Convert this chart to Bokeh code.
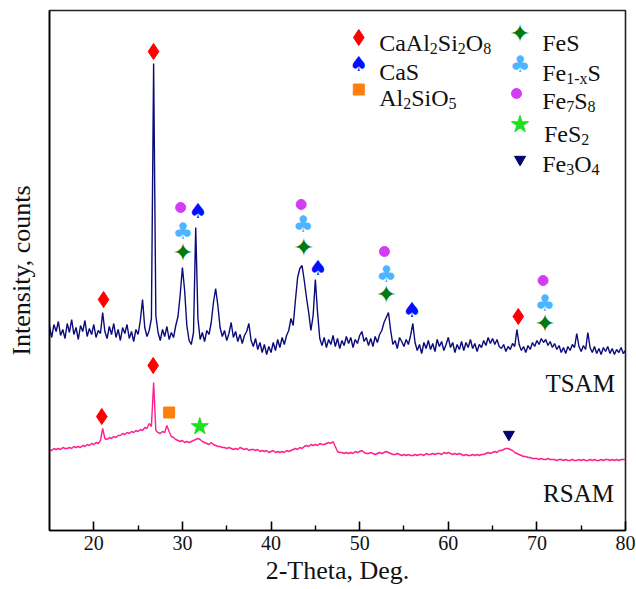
import numpy as np
from bokeh.plotting import figure
from bokeh.models import Range1d, FixedTicker, ColumnDataSource
from bokeh.core.properties import value
from bokeh.embed import file_html
from bokeh.resources import INLINE

# 2-theta scan, 0.25 deg step from 15 to 80 deg (261 points)
two_theta = np.linspace(15.0, 80.0, 261)

# TSAM pattern (offset upward), one row per degree
tsam_counts = [
    204, 193, 206, 199,   # 15
    209, 195, 201, 192,   # 16
    207, 198, 211, 196,   # 17
    203, 191, 205, 199,   # 18
    210, 194, 202, 196,   # 19
    206, 193, 200, 197,   # 20
    218, 199, 192, 204,   # 21
    196, 207, 193, 201,   # 22
    190, 203, 197, 206,   # 23
    192, 199, 189, 201,   # 24
    196, 210, 231, 203,   # 25
    194, 200, 212, 467,   # 26
    215, 198, 190, 201,   # 27
    194, 204, 191, 198,   # 28
    193, 205, 214, 236,   # 29
    263, 240, 205, 190,   # 30
    186, 198, 303, 212,   # 31
    191, 198, 189, 200,   # 32
    196, 208, 228, 242,   # 33
    225, 203, 194, 200,   # 34
    190, 197, 208, 193,   # 35
    199, 189, 196, 187,   # 36
    195, 199, 207, 190,   # 37
    184, 192, 181, 188,   # 38
    178, 186, 176, 184,   # 39
    178, 188, 180, 191,   # 40
    183, 193, 186, 195,   # 41
    200, 212, 205, 230,   # 42
    253, 262, 265, 250,   # 43
    233, 218, 200, 215,   # 44
    251, 218, 192, 185,   # 45
    193, 183, 191, 186,   # 46
    195, 184, 192, 182,   # 47
    190, 185, 194, 187,   # 48
    193, 183, 191, 187,   # 49
    195, 199, 189, 193,   # 50
    185, 192, 184, 194,   # 51
    188, 196, 200, 208,   # 52
    213, 218, 200, 186,   # 53
    190, 182, 193, 189,   # 54
    184, 191, 186, 195,   # 55
    207, 188, 180, 186,   # 56
    177, 188, 182, 190,   # 57
    181, 187, 179, 191,   # 58
    184, 189, 180, 186,   # 59
    193, 183, 188, 178,   # 60
    186, 181, 189, 180,   # 61
    188, 183, 191, 182,   # 62
    187, 179, 186, 183,   # 63
    190, 185, 193, 187,   # 64
    192, 186, 191, 184,   # 65
    182, 186, 179, 184,   # 66
    181, 187, 184, 201,   # 67
    186, 180, 184, 178,   # 68
    185, 181, 188, 184,   # 69
    190, 186, 192, 188,   # 70
    191, 185, 189, 183,   # 71
    187, 181, 185, 178,   # 72
    183, 177, 184, 180,   # 73
    186, 183, 197, 184,   # 74
    179, 185, 181, 198,   # 75
    183, 178, 184, 177,   # 76
    182, 176, 183, 179,   # 77
    184, 177, 182, 176,   # 78
    181, 178, 183, 177,   # 79
    180,                  # 80
]

# RSAM pattern (lower trace)
rsam_counts = [
    81, 80, 82, 81,   # 15
    82, 81, 83, 82,   # 16
    82, 83, 82, 84,   # 17
    83, 84, 83, 85,   # 18
    84, 86, 85, 87,   # 19
    86, 88, 87, 90,   # 20
    102, 92, 91, 93,  # 21
    92, 94, 93, 95,   # 22
    95, 97, 96, 98,   # 23
    97, 99, 98, 100,  # 24
    99, 101, 100, 103,  # 25
    102, 107, 104, 148,  # 26
    100, 98, 97, 99,  # 27
    98, 105, 99, 94,  # 28
    93, 91, 90, 89,   # 29
    90, 88, 89, 88,   # 30
    89, 90, 91, 92,   # 31
    91, 89, 88, 87,   # 32
    86, 88, 86, 85,   # 33
    84, 84, 83, 83,   # 34
    82, 83, 82, 81,   # 35
    82, 81, 83, 82,   # 36
    81, 82, 80, 81,   # 37
    81, 80, 81, 79,   # 38
    80, 79, 80, 78,   # 39
    79, 80, 78, 79,   # 40
    78, 79, 78, 80,   # 41
    79, 80, 81, 82,   # 42
    81, 83, 82, 84,   # 43
    85, 84, 86, 85,   # 44
    86, 85, 87, 86,   # 45
    86, 87, 88, 87,   # 46
    89, 84, 79, 78,   # 47
    78, 77, 78, 77,   # 48
    78, 77, 79, 78,   # 49
    79, 80, 78, 77,   # 50
    77, 78, 77, 76,   # 51
    77, 78, 77, 78,   # 52
    79, 78, 77, 76,   # 53
    76, 77, 76, 75,   # 54
    76, 75, 76, 75,   # 55
    75, 76, 75, 76,   # 56
    76, 75, 77, 76,   # 57
    76, 77, 76, 77,   # 58
    77, 76, 78, 77,   # 59
    78, 77, 76, 77,   # 60
    76, 77, 76, 75,   # 61
    76, 75, 75, 76,   # 62
    75, 76, 75, 76,   # 63
    76, 77, 78, 77,   # 64
    78, 79, 78, 80,   # 65
    80, 81, 82, 82,   # 66
    81, 80, 78, 77,   # 67
    76, 75, 74, 74,   # 68
    73, 73, 72, 72,   # 69
    72, 71, 72, 71,   # 70
    71, 72, 71, 71,   # 71
    71, 70, 71, 71,   # 72
    70, 71, 70, 70,   # 73
    71, 70, 70, 71,   # 74
    70, 71, 70, 70,   # 75
    71, 70, 71, 70,   # 76
    70, 71, 70, 71,   # 77
    71, 70, 71, 70,   # 78
    71, 70, 71, 71,   # 79
    71,               # 80
]

# Phase identification marks: (2-theta, height on the stacked scale)
anorthite_x = [21.1, 26.74, 67.9, 20.9, 26.7]          # CaAl2Si2O8
anorthite_y = [231, 479, 214, 114, 165]
cas_x = [31.74, 45.3, 55.9]                             # CaS
cas_y = [320, 263, 221]
al2sio5_x = [28.5]
al2sio5_y = [118]
fes_x = [30.05, 43.7, 53.0, 70.9]                       # FeS
fes_y = [278, 283, 236, 207]
fe1xs_x = [30.05, 43.6, 53.0, 70.9]                     # Fe1-xS
fe1xs_y = [300, 307, 257, 228]
fe7s8_x = [29.8, 43.4, 52.8, 70.7]
fe7s8_y = [323, 326, 279, 250]
fes2_x = [31.96]
fes2_y = [104]
fe3o4_x = [66.84]
fe3o4_y = [96]

x_ticks = [20, 30, 40, 50, 60, 70, 80]
x_minor = [25, 35, 45, 55, 65, 75]

SERIF = "Liberation Serif"
SYM = "DejaVu Sans"

C_ANOR = "#ff0000"
C_CAS = "#0010ff"
C_AL = "#ff7f0e"
C_FES = "#007a12"
C_FE1X = "#4db5ff"
C_FE7 = "#d23cf2"
C_FES2 = "#1fe01f"
C_FE3 = "#00006e"

SPADE_PX, CLUB_PX, STAR4_PX = "21px", "23px", "25px"

p = figure(width=636, height=589, output_backend="svg", toolbar_location=None,
           x_range=Range1d(15, 80), y_range=Range1d(0, 520),
           min_border_left=49, min_border_right=11, min_border_top=10,
           min_border_bottom=59)
p.background_fill_color = "white"
p.border_fill_color = "white"
p.grid.visible = False
p.outline_line_color = "#222222"
p.outline_line_width = 1.6

# axes
xa = p.xaxis[0]
xa.ticker = FixedTicker(ticks=x_ticks, minor_ticks=x_minor)
xa.major_tick_in = 9
xa.major_tick_out = 0
xa.minor_tick_in = 5
xa.minor_tick_out = 0
xa.axis_line_width = 1.6
xa.major_tick_line_width = 1.6
xa.minor_tick_line_width = 1.4
xa.major_label_text_font = SERIF
xa.major_label_text_font_size = "20px"
xa.major_label_text_color = "#111111"
xa.major_label_standoff = 5
xa.axis_label = "2-Theta, Deg."
xa.axis_label_text_font = SERIF
xa.axis_label_text_font_size = "26px"
xa.axis_label_text_font_style = "normal"
xa.axis_label_text_color = "#111111"
xa.axis_label_standoff = 3

ya = p.yaxis[0]
ya.ticker = FixedTicker(ticks=[])
ya.major_tick_in = 0
ya.major_tick_out = 0
ya.minor_tick_in = 0
ya.minor_tick_out = 0
ya.axis_line_width = 1.6
ya.major_label_text_font_size = "0px"
ya.axis_label = "Intensity, counts"
ya.axis_label_text_font = SERIF
ya.axis_label_text_font_size = "26px"
ya.axis_label_text_font_style = "normal"
ya.axis_label_text_color = "#111111"
ya.axis_label_standoff = 14

# diffraction patterns
p.line(two_theta, rsam_counts, line_color="#ff1f8e", line_width=1.4)
p.line(two_theta, tsam_counts, line_color="#0b0b7a", line_width=1.4)

# phase marks
p.scatter(anorthite_x, anorthite_y, marker="diamond", size=16, color=C_ANOR)
p.scatter(al2sio5_x, al2sio5_y, marker="square", size=11, color=C_AL)
p.scatter(fe7s8_x, fe7s8_y, marker="circle", size=10, color=C_FE7)
p.scatter(fes2_x, fes2_y, marker="star", size=18, color=C_FES2)
p.scatter(fe3o4_x, fe3o4_y, marker="inverted_triangle", size=11, color=C_FE3)
p.text(cas_x, cas_y, text=["\u2660"] * len(cas_x), text_font=value(SYM),
       text_font_size=SPADE_PX, text_color=C_CAS, text_align="center",
       text_baseline="middle")
p.text(fe1xs_x, fe1xs_y, text=["\u2663"] * len(fe1xs_x), text_font=value(SYM),
       text_font_size=CLUB_PX, text_color=C_FE1X, text_align="center",
       text_baseline="middle")
p.text(fes_x, fes_y, text=["\u2726"] * len(fes_x), text_font=value(SYM),
       text_font_size=STAR4_PX, text_color=C_FES, text_align="center",
       text_baseline="middle")

# sample names
p.text([78.8, 78.7], [147, 37], text=["TSAM", "RSAM"], text_font=value(SERIF),
       text_font_size="25px", text_color="#111111", text_align="right",
       text_baseline="alphabetic")

# legend with chemical subscripts laid out segment by segment
ADV = {"C": 0.667, "a": 0.444, "A": 0.722, "l": 0.278, "S": 0.556, "i": 0.278,
       "O": 0.722, "F": 0.556, "e": 0.444, "-": 0.333, "x": 0.5}
MAIN_PX, SUB_PX, SUB_DROP = 24.0, 16.0, 6.0

def adv(s, size):
    return sum(ADV.get(ch, 0.5) for ch in s) * size

legend_labels = [
    [("CaAl", 0), ("2", 1), ("Si", 0), ("2", 1), ("O", 0), ("8", 1)],
    [("CaS", 0)],
    [("Al", 0), ("2", 1), ("SiO", 0), ("5", 1)],
    [("FeS", 0)],
    [("Fe", 0), ("1-x", 1), ("S", 0)],
    [("Fe", 0), ("7", 1), ("S", 0), ("8", 1)],
    [("FeS", 0), ("2", 1)],
    [("Fe", 0), ("3", 1), ("O", 0), ("4", 1)],
]
legend_text_x = [52.2, 52.2, 52.2, 70.6, 70.6, 70.6, 70.8, 70.6]
legend_text_y = [488, 459, 433, 488, 458, 430, 397, 367]

seg = dict(x=[], y=[], text=[], dx=[], dy=[], fs=[])
for parts, tx, ty in zip(legend_labels, legend_text_x, legend_text_y):
    off = 0.0
    for s, sub in parts:
        size = SUB_PX if sub else MAIN_PX
        seg["x"].append(tx)
        seg["y"].append(ty)
        seg["text"].append(s)
        seg["dx"].append(off)
        seg["dy"].append(SUB_DROP if sub else 0.0)
        seg["fs"].append(f"{size:.0f}px")
        off += adv(s, size)
p.text(x="x", y="y", text="text", x_offset="dx", y_offset="dy",
       text_font_size="fs", source=ColumnDataSource(seg),
       text_font=value(SERIF), text_color="#111111", text_align="left",
       text_baseline="alphabetic")

# legend keys
p.scatter([49.9], [493], marker="diamond", size=16, color=C_ANOR)
p.scatter([49.9], [441], marker="square", size=11, color=C_AL)
p.scatter([67.7], [437], marker="circle", size=10, color=C_FE7)
p.scatter([68.1], [406], marker="star", size=18, color=C_FES2)
p.scatter([68.1], [371], marker="inverted_triangle", size=11, color=C_FE3)
p.text([49.9], [467], text=["\u2660"], text_font=value(SYM), text_font_size=SPADE_PX,
       text_color=C_CAS, text_align="center", text_baseline="middle")
p.text([68.1], [467], text=["\u2663"], text_font=value(SYM), text_font_size=CLUB_PX,
       text_color=C_FE1X, text_align="center", text_baseline="middle")
p.text([68.1], [497], text=["\u2726"], text_font=value(SYM), text_font_size=STAR4_PX,
       text_color=C_FES, text_align="center", text_baseline="middle")

open("out.html", "w").write(file_html(p, INLINE))
